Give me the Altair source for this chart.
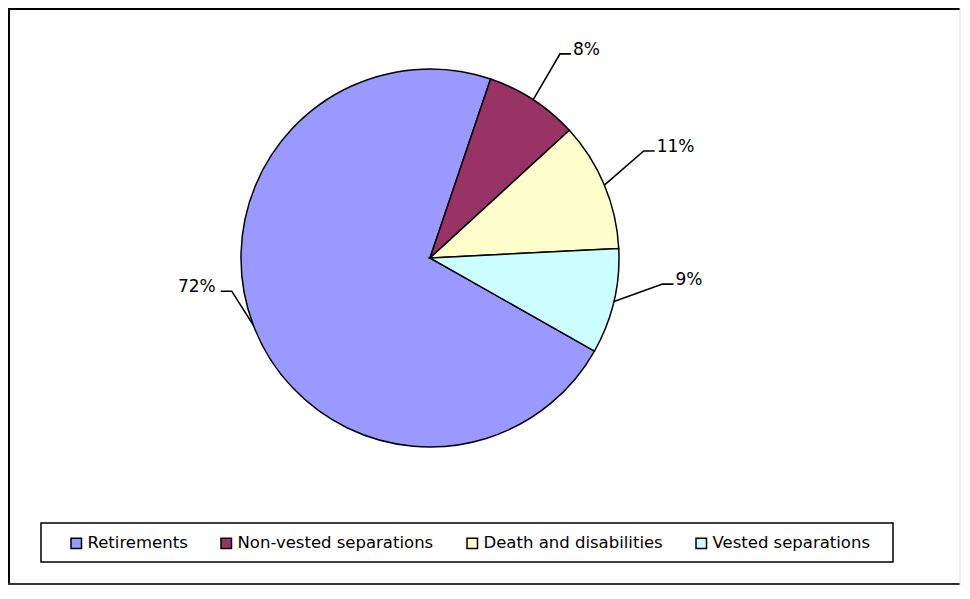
import math
import altair as alt
import pandas as pd

# ---- data ----
categories = ["Retirements", "Non-vested separations", "Death and disabilities", "Vested separations"]
shares = [72, 8, 11, 9]
labels = ["72%", "8%", "11%", "9%"]
colors = ["#9999FF", "#993366", "#FFFFCC", "#CCFFFF"]

# ---- layout / style ----
W, H = 954, 578
CX, CY, R = 422, 250, 189
START_DEG = 119.5
# leader-line elbow placement per slice (deg clockwise from 12 o'clock, radius in px)
elbow_angle = [260.5, 32.5, 63.4, 96.4]
elbow_radius = [201, 242, 239, 234]
TAIL = 11
FONT = "DejaVu Sans"

total = sum(shares)
pie_df = pd.DataFrame({"idx": range(len(categories)), "category": categories, "share": shares})

# leader lines and label positions derived from the cumulative shares
line_rows, text_rows = [], []
cum = 0
for i, (c, s, lab) in enumerate(zip(categories, shares, labels)):
    mid = math.radians(START_DEG + 360 * (cum + s / 2) / total)
    cum += s
    ex, ey = CX + R * math.sin(mid), CY - R * math.cos(mid)
    ea = math.radians(elbow_angle[i])
    bx, by = CX + elbow_radius[i] * math.sin(ea), CY - elbow_radius[i] * math.cos(ea)
    side = 1 if bx > CX else -1
    tx = bx + side * TAIL
    for k, (px, py) in enumerate([(ex, ey), (bx, by), (tx, by)]):
        line_rows.append({"category": c, "k": k, "px": px, "py": py})
    text_rows.append({"label": lab, "px": tx + (2 if side > 0 else -5), "py": by + 1,
                      "side": "right" if side > 0 else "left"})
line_df = pd.DataFrame(line_rows)
text_df = pd.DataFrame(text_rows)

color_scale = alt.Scale(domain=categories, range=colors)

pie = alt.Chart(pie_df).mark_arc(outerRadius=R, stroke="black", strokeWidth=1.5).encode(
    theta=alt.Theta("share:Q", stack=True,
                    scale=alt.Scale(range=[math.radians(START_DEG), math.radians(START_DEG) + 2 * math.pi])),
    color=alt.Color("category:N", scale=color_scale, sort=categories,
                    legend=alt.Legend(title=None, orient="none", direction="horizontal",
                                      legendX=60, legendY=527, symbolType="square",
                                      symbolSize=110, symbolStrokeColor="black",
                                      symbolStrokeWidth=1.5, labelFont=FONT,
                                      labelFontSize=16.5, labelColor="black",
                                      labelLimit=400, columnPadding=30, labelOffset=3,
                                      padding=0)),
    order=alt.Order("idx:Q"),
    x=alt.value(CX),
    y=alt.value(CY),
)

leaders = alt.Chart(line_df).mark_line(color="black", strokeWidth=1.6).encode(
    x=alt.X("px:Q", scale=None),
    y=alt.Y("py:Q", scale=None),
    detail="category:N",
    order="k:Q",
)

txt_r = alt.Chart(text_df).transform_filter(alt.datum.side == "right").mark_text(
    align="left", baseline="alphabetic", font=FONT, fontSize=17, color="black"
).encode(x=alt.X("px:Q", scale=None), y=alt.Y("py:Q", scale=None), text="label:N")

txt_l = alt.Chart(text_df).transform_filter(alt.datum.side == "left").mark_text(
    align="right", baseline="alphabetic", font=FONT, fontSize=17, color="black"
).encode(x=alt.X("px:Q", scale=None), y=alt.Y("py:Q", scale=None), text="label:N")

one = pd.DataFrame({"k": [0]})
legend_box = alt.Chart(one).mark_rect(fill="white", fillOpacity=0, stroke="black", strokeWidth=1.5).encode(
    x=alt.value(33), x2=alt.value(885), y=alt.value(515), y2=alt.value(554)
)
border_l = alt.Chart(one).mark_rule(color="black", strokeWidth=2).encode(
    x=alt.value(1), y=alt.value(0), y2=alt.value(H - 1))
border_t = alt.Chart(one).mark_rule(color="black", strokeWidth=2).encode(
    x=alt.value(0), x2=alt.value(W - 2), y=alt.value(1))
border_b = alt.Chart(one).mark_rule(color="#333333", strokeWidth=2).encode(
    x=alt.value(0), x2=alt.value(W - 2), y=alt.value(H - 2))
border_r = alt.Chart(one).mark_rule(color="#dddddd", strokeWidth=1).encode(
    x=alt.value(W - 2), y=alt.value(0), y2=alt.value(H - 1))

chart = alt.layer(legend_box, pie, leaders, txt_r, txt_l, border_l, border_t, border_b, border_r).properties(
    width=W, height=H, autosize=alt.AutoSizeParams(type="none"), padding=0, background="white"
).configure_view(stroke=None)

chart.save("out.html", embed_options={"renderer": "svg", "actions": False})
